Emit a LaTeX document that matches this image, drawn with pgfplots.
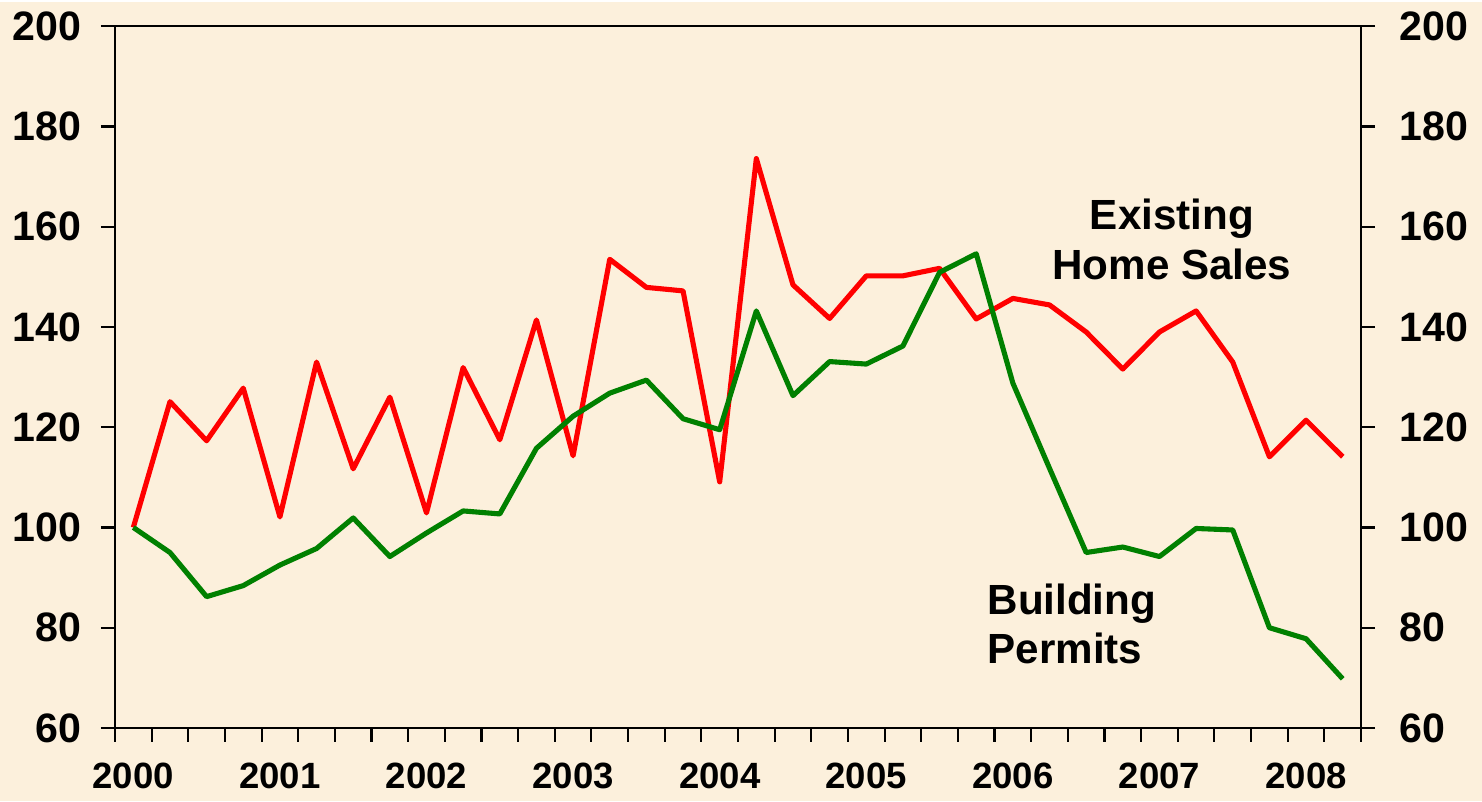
\documentclass[border=0pt]{standalone}
\usepackage{fontspec}
\setmainfont{Liberation Sans}
\usepackage{pgfplots}
\usepackage{pgfplotstable}
\pgfplotsset{compat=1.18}
\definecolor{bg}{HTML}{FCF0DC}
\definecolor{myred}{HTML}{FF0000}
\definecolor{mygreen}{HTML}{008000}

\pgfplotstableread{
i sales permits
0 100.0 100.0
1 125.1 95.0
2 117.3 86.2
3 127.8 88.4
4 102.1 92.5
5 133.0 95.8
6 111.7 101.9
7 126.0 94.2
8 102.9 98.9
9 131.9 103.3
10 117.5 102.7
11 141.4 115.8
12 114.3 122.2
13 153.5 126.8
14 147.9 129.4
15 147.2 121.7
16 109.1 119.5
17 173.6 143.2
18 148.4 126.3
19 141.7 133.1
20 150.2 132.6
21 150.2 136.2
22 151.7 150.9
23 141.6 154.6
24 145.7 128.8
25 144.4 111.8
26 139.0 95.0
27 131.6 96.1
28 139.0 94.2
29 143.2 99.8
30 133.0 99.5
31 114.1 80.0
32 121.4 77.8
33 114.1 69.8
}\datatable

\begin{document}
\begin{tikzpicture}
\fill[bg] (0,0) rectangle (14.82,7.99);
\begin{axis}[
  at={(1.15cm,0.73cm)}, anchor=south west,
  scale only axis, width=12.46cm, height=7.017cm,
  xmin=-0.5, xmax=33.5, ymin=60, ymax=200,
  axis line style={line width=0.6pt, black},
  tick align=outside,
  major tick length=0.14cm, minor tick length=0.14cm,
  tick style={line width=0.6pt, black},
  ytick={60,80,...,200}, ytick pos=left,
  xtick={0,4,...,32},
  xticklabels={2000,2001,2002,2003,2004,2005,2006,2007,2008},
  major x tick style={draw=none},
  minor xtick={-0.5,0.5,...,33.5},
  xtick pos=bottom,
  /pgf/number format/assume math mode=true,
  yticklabel style={font=\fontsize{11.7}{14}\selectfont\bfseries, xshift=-0.07cm},
  xticklabel style={font=\fontsize{10.4}{12}\selectfont\bfseries, yshift=-0.09cm},
  clip=false,
]
\addplot[myred, line width=1.45pt, line join=round] table[x=i, y=sales] {\datatable};
\addplot[mygreen, line width=1.45pt, line join=round] table[x=i, y=permits] {\datatable};
\node[anchor=base, font=\fontsize{12}{14}\selectfont\bfseries] at (axis cs:28.34,159.4) {Existing};
\node[anchor=base, font=\fontsize{12}{14}\selectfont\bfseries] at (axis cs:28.34,149.4) {Home Sales};
\node[anchor=base west, inner sep=0pt, font=\fontsize{12}{14}\selectfont\bfseries] at (axis cs:23.29,82.7) {Building};
\node[anchor=base west, inner sep=0pt, font=\fontsize{12}{14}\selectfont\bfseries] at (axis cs:23.29,72.8) {Permits};
\end{axis}
\begin{axis}[
  at={(1.15cm,0.73cm)}, anchor=south west,
  scale only axis, width=12.46cm, height=7.017cm,
  xmin=-0.5, xmax=33.5, ymin=60, ymax=200,
  axis x line=none, axis y line*=right,
  axis line style={line width=0.6pt, black, -},
  tick align=outside,
  major tick length=0.14cm,
  tick style={line width=0.6pt, black},
  ytick={60,80,...,200},
  /pgf/number format/assume math mode=true,
  yticklabel style={font=\fontsize{11.7}{14}\selectfont\bfseries, xshift=0.12cm},
]
\end{axis}
\end{tikzpicture}
\end{document}
